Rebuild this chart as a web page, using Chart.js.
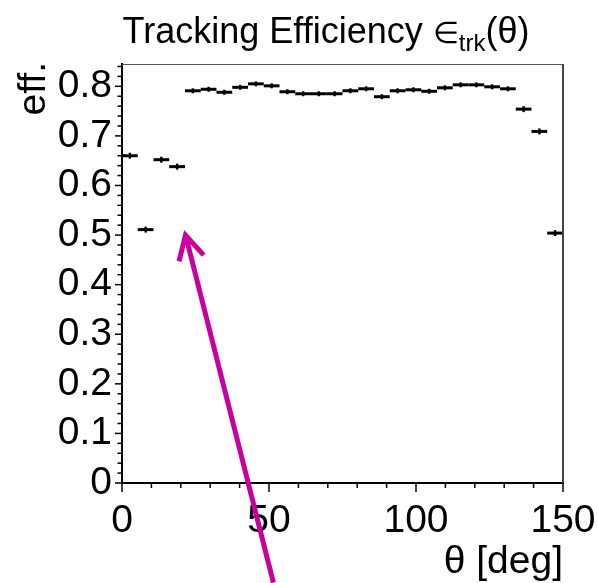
<!DOCTYPE html>
<html>
<head>
<meta charset="utf-8">
<script src="https://cdn.jsdelivr.net/npm/chart.js@4/dist/chart.umd.min.js"></script>
<style>
  html, body { margin: 0; padding: 0; background: #ffffff; }
  #wrap { width: 597px; height: 583px; position: relative; }
</style>
</head>
<body>
<div id="wrap"><canvas id="chart"></canvas></div>
<script>
// Histogram bin edges in theta [deg] (28 bins from 0 to 150)
const thetaEdges = [0, 5.357, 10.714, 16.071, 21.429, 26.786, 32.143, 37.5, 42.857, 48.214,
  53.571, 58.929, 64.286, 69.643, 75, 80.357, 85.714, 91.071, 96.429, 101.786,
  107.143, 112.5, 117.857, 123.214, 128.571, 133.929, 139.286, 144.643, 150];

// Tracking efficiency per bin
const efficiency = [0.660, 0.511, 0.652, 0.638, 0.791, 0.794, 0.788, 0.798, 0.805, 0.801,
  0.789, 0.785, 0.785, 0.785, 0.791, 0.795, 0.779, 0.791, 0.793, 0.790,
  0.797, 0.803, 0.803, 0.799, 0.795, 0.754, 0.709, 0.504];

// Statistical uncertainty per bin
const efficiencyError = [0.006, 0.006, 0.006, 0.006, 0.005, 0.005, 0.005, 0.005, 0.005, 0.005,
  0.005, 0.005, 0.005, 0.005, 0.005, 0.005, 0.005, 0.005, 0.005, 0.005,
  0.005, 0.005, 0.005, 0.005, 0.005, 0.006, 0.006, 0.006];

// Axis tick values and labels
const xTickValues = [0, 50, 100, 150];
const xTickLabels = ['0', '50', '100', '150'];
const yTickValues = [0, 0.1, 0.2, 0.3, 0.4, 0.5, 0.6, 0.7, 0.8];
const yTickLabels = ['0', '0.1', '0.2', '0.3', '0.4', '0.5', '0.6', '0.7', '0.8'];

// Annotation arrow, in data coordinates (theta, eff)
const arrowFrom = { x: 51.5, y: -0.201 };
const arrowTo = { x: 21.6, y: 0.500 };

const FONT = '"Liberation Sans", Arial, Helvetica, sans-serif';
const MAGENTA = '#c8009e';

const binCenters = thetaEdges.slice(0, -1).map((lo, i) => (lo + thetaEdges[i + 1]) / 2);
const points = efficiency.map((v, i) => ({ x: binCenters[i], y: v }));

// Draws horizontal bin-width bars and vertical error bars for each point
const errorBarPlugin = {
  id: 'errorBars',
  afterDatasetsDraw(chart) {
    const { ctx, scales: { x, y } } = chart;
    const meta = chart.getDatasetMeta(0);
    ctx.save();
    ctx.strokeStyle = '#000';
    ctx.lineCap = 'butt';
    meta.data.forEach((pt, i) => {
      const xl = x.getPixelForValue(thetaEdges[i]);
      const xr = x.getPixelForValue(thetaEdges[i + 1]);
      const yc = pt.y;
      ctx.lineWidth = 3;
      ctx.beginPath();
      ctx.moveTo(xl, yc);
      ctx.lineTo(xr, yc);
      ctx.stroke();
      const yt = y.getPixelForValue(efficiency[i] + efficiencyError[i]);
      const yb = y.getPixelForValue(efficiency[i] - efficiencyError[i]);
      ctx.lineWidth = 2.4;
      ctx.beginPath();
      ctx.moveTo(pt.x, yt);
      ctx.lineTo(pt.x, yb);
      ctx.stroke();
    });
    ctx.restore();
  }
};

// Frame, major/minor tick marks, titles and the annotation arrow
const decorPlugin = {
  id: 'decor',
  afterDraw(chart) {
    const { ctx, chartArea: a, scales: { x, y } } = chart;
    ctx.save();

    // top and right frame lines
    ctx.strokeStyle = '#555';
    ctx.lineWidth = 1;
    ctx.beginPath();
    ctx.moveTo(a.left, a.top + 0.5);
    ctx.lineTo(a.right, a.top + 0.5);
    ctx.stroke();
    ctx.lineWidth = 2;
    ctx.strokeStyle = '#444';
    ctx.beginPath();
    ctx.moveTo(a.right, a.top);
    ctx.lineTo(a.right, a.bottom);
    ctx.stroke();

    // tick marks
    ctx.strokeStyle = '#000';
    ctx.lineWidth = 1.5;
    for (let t = 0; t <= 150 + 1e-9; t += 10) {
      const px = x.getPixelForValue(t);
      const len = (Math.round(t) % 50 === 0) ? 9 : 5;
      ctx.beginPath();
      ctx.moveTo(px, a.bottom);
      ctx.lineTo(px, a.bottom + len);
      ctx.stroke();
    }
    for (let k = 0; k <= 42; k++) {
      const v = k * 0.02;
      const py = y.getPixelForValue(v);
      const len = (k % 5 === 0) ? 7 : 4.5;
      ctx.beginPath();
      ctx.moveTo(a.left - len, py);
      ctx.lineTo(a.left, py);
      ctx.stroke();
    }

    // plot title with subscript
    ctx.fillStyle = '#000';
    ctx.textBaseline = 'alphabetic';
    ctx.textAlign = 'left';
    const parts = [
      { t: 'Tracking Efficiency ', f: '36px ' + FONT, dy: 0 },
      { t: '\u2208', f: '30px ' + FONT, dy: 0 },
      { t: 'trk', f: '24px ' + FONT, dy: 8 },
      { t: '(\u03b8)', f: '36px ' + FONT, dy: 0 }
    ];
    let total = 0;
    parts.forEach(p => { ctx.font = p.f; p.w = ctx.measureText(p.t).width; total += p.w; });
    let cx = 326 - total / 2;
    parts.forEach(p => {
      ctx.font = p.f;
      ctx.fillText(p.t, cx, 43 + p.dy);
      cx += p.w;
    });

    // x-axis title, right aligned to the frame
    ctx.font = '39px ' + FONT;
    ctx.textAlign = 'right';
    ctx.fillText('\u03b8 [deg]', a.right, 573);

    // y-axis title, rotated, aligned to the top of the frame
    ctx.save();
    ctx.translate(45, a.top - 2);
    ctx.rotate(-Math.PI / 2);
    ctx.textAlign = 'right';
    ctx.fillText('eff.', 0, 0);
    ctx.restore();

    // annotation arrow
    const x0 = x.getPixelForValue(arrowFrom.x), y0 = y.getPixelForValue(arrowFrom.y);
    const x1 = x.getPixelForValue(arrowTo.x), y1 = y.getPixelForValue(arrowTo.y);
    const ang = Math.atan2(y0 - y1, x0 - x1);
    const head = 27, spread = 28 * Math.PI / 180;
    ctx.strokeStyle = MAGENTA;
    ctx.lineWidth = 5;
    ctx.lineCap = 'butt';
    ctx.beginPath();
    ctx.moveTo(x0, y0);
    ctx.lineTo(x1 + Math.cos(ang) * 3, y1 + Math.sin(ang) * 3);
    ctx.stroke();
    ctx.lineJoin = 'miter';
    ctx.beginPath();
    ctx.moveTo(x1 + Math.cos(ang - spread) * head, y1 + Math.sin(ang - spread) * head);
    ctx.lineTo(x1, y1);
    ctx.lineTo(x1 + Math.cos(ang + spread) * head, y1 + Math.sin(ang + spread) * head);
    ctx.stroke();

    ctx.restore();
  }
};

new Chart(document.getElementById('chart'), {
  type: 'scatter',
  data: {
    datasets: [{
      label: 'eff',
      data: points,
      pointRadius: 0,
      showLine: false,
      borderColor: '#000',
      backgroundColor: '#000'
    }]
  },
  options: {
    responsive: true,
    maintainAspectRatio: false,
    animation: false,
    devicePixelRatio: 1,
    layout: { padding: { top: 64, right: 34, left: 0, bottom: 0 } },
    plugins: {
      legend: { display: false },
      tooltip: { enabled: false },
      title: { display: false }
    },
    scales: {
      x: {
        type: 'linear',
        min: 0,
        max: 150,
        afterBuildTicks(scale) { scale.ticks = xTickValues.map(v => ({ value: v })); },
        afterFit(scale) { scale.height = 100; scale.paddingLeft = 0; scale.paddingRight = 0; },
        ticks: {
          autoSkip: false,
          maxRotation: 0,
          padding: 6,
          color: '#000',
          font: { family: FONT, size: 39 },
          callback: (v) => xTickLabels[xTickValues.indexOf(v)]
        },
        grid: { drawOnChartArea: false, drawTicks: true, tickLength: 9, color: 'rgba(0,0,0,0)' },
        border: { display: true, color: '#000', width: 2 }
      },
      y: {
        type: 'linear',
        min: 0,
        max: 0.845,
        afterBuildTicks(scale) { scale.ticks = yTickValues.map(v => ({ value: v })); },
        afterFit(scale) { scale.width = 122; scale.paddingTop = 0; scale.paddingBottom = 0; },
        ticks: {
          autoSkip: false,
          padding: 3,
          color: '#000',
          font: { family: FONT, size: 39 },
          callback: (v) => {
            const i = yTickValues.findIndex(t => Math.abs(t - v) < 1e-9);
            return i >= 0 ? yTickLabels[i] : '';
          }
        },
        grid: { drawOnChartArea: false, drawTicks: true, tickLength: 7, color: 'rgba(0,0,0,0)' },
        border: { display: true, color: '#000', width: 2 }
      }
    }
  },
  plugins: [errorBarPlugin, decorPlugin]
});
</script>
</body>
</html>
